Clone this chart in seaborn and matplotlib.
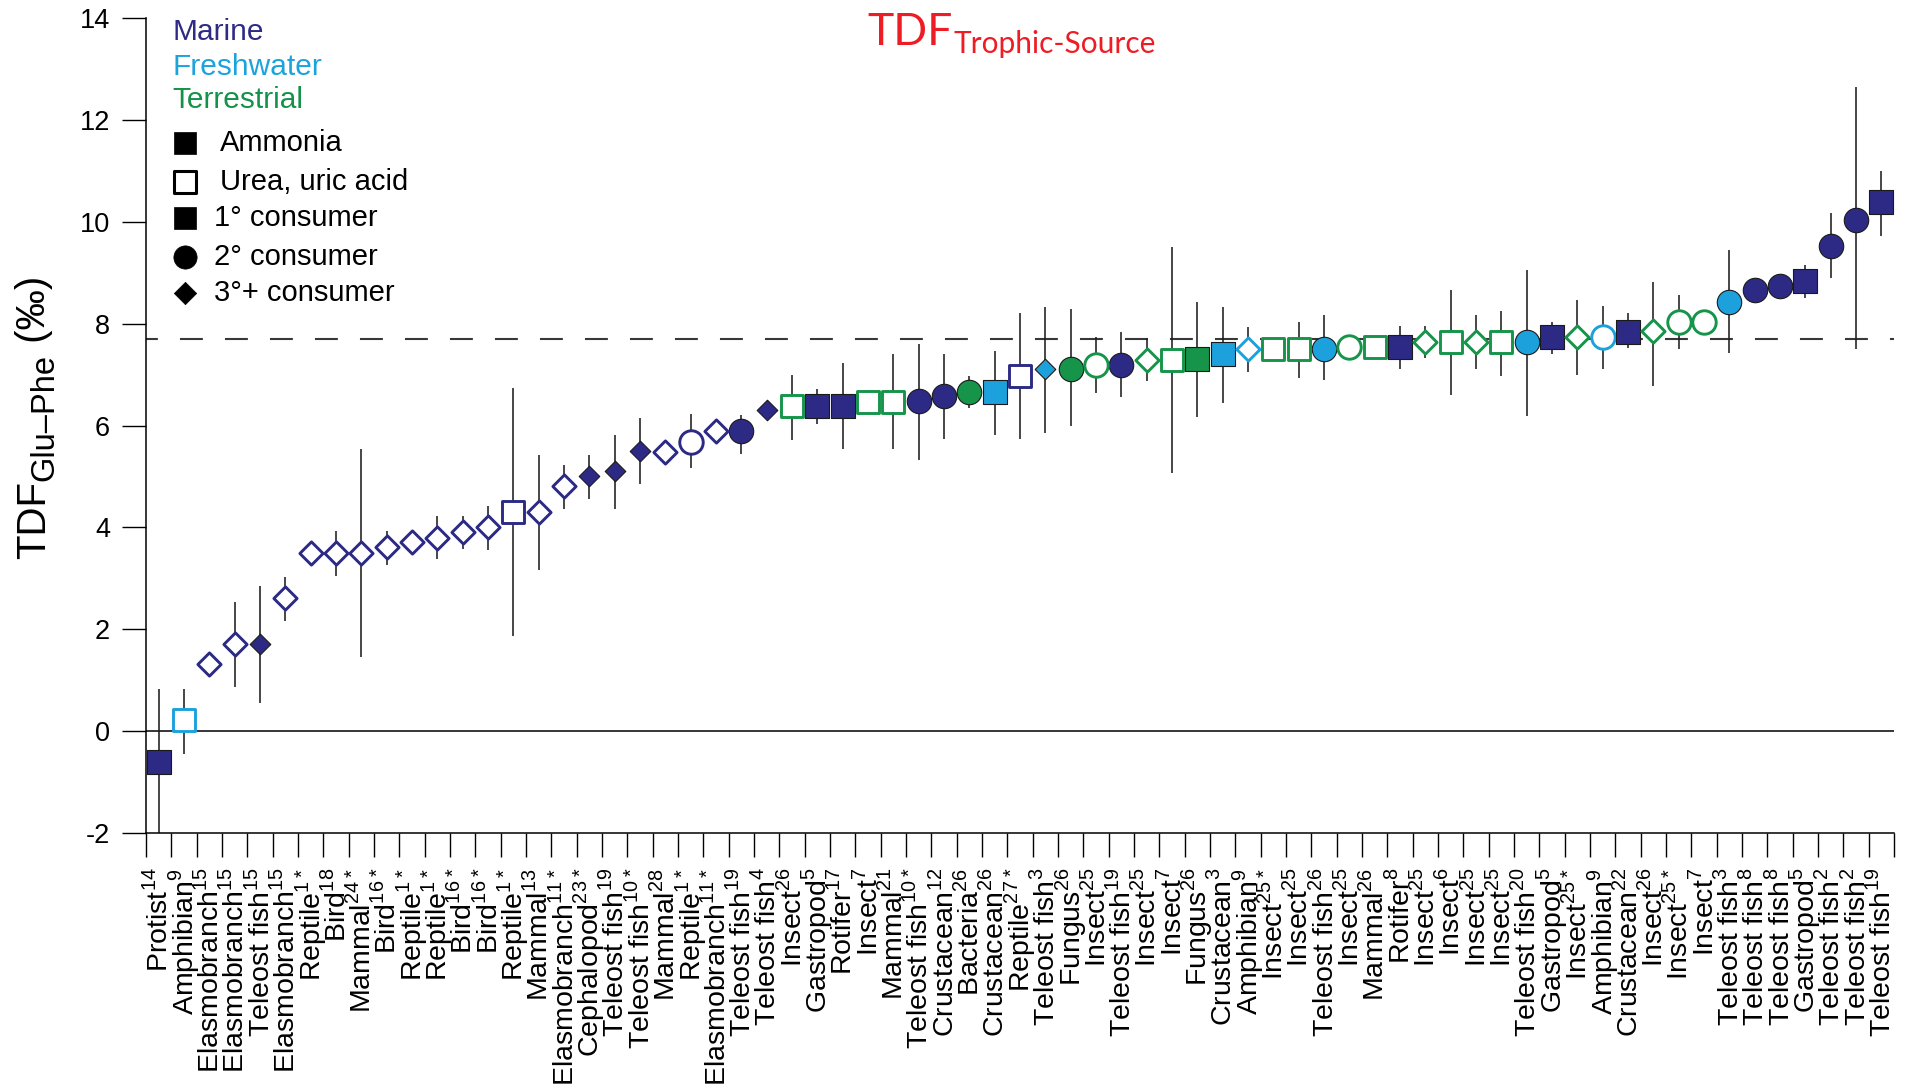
import numpy as np
import pandas as pd
import matplotlib
matplotlib.use("Agg")
import matplotlib.pyplot as plt
import seaborn as sns

# ---------------------------------------------------------------- data
taxa = ["Protist", "Amphibian", "Elasmobranch", "Elasmobranch", "Teleost fish",
        "Elasmobranch", "Reptile", "Bird", "Mammal", "Bird",
        "Reptile", "Reptile", "Bird", "Bird", "Reptile",
        "Mammal", "Elasmobranch", "Cephalopod", "Teleost fish", "Teleost fish",
        "Mammal", "Reptile", "Elasmobranch", "Teleost fish", "Teleost fish",
        "Insect", "Gastropod", "Rotifer", "Insect", "Mammal",
        "Teleost fish", "Crustacean", "Bacteria", "Crustacean", "Reptile",
        "Teleost fish", "Fungus", "Insect", "Teleost fish", "Insect",
        "Insect", "Fungus", "Crustacean", "Amphibian", "Insect",
        "Insect", "Teleost fish", "Insect", "Mammal", "Rotifer",
        "Insect", "Insect", "Insect", "Insect", "Teleost fish",
        "Gastropod", "Insect", "Amphibian", "Crustacean", "Insect",
        "Insect", "Insect", "Teleost fish", "Teleost fish", "Teleost fish",
        "Gastropod", "Teleost fish", "Teleost fish", "Teleost fish"]

refs = ["14", "9", "15", "15", "15",
        "15", "1*", "18", "24*", "16*",
        "1*", "1*", "16*", "16*", "1*",
        "13", "11*", "23*", "19", "10*",
        "28", "1*", "11*", "19", "4",
        "26", "5", "17", "7", "21",
        "10*", "12", "26", "26", "27*",
        "3", "26", "25", "19", "25",
        "7", "26", "3", "9", "25*",
        "25", "26", "25", "26", "8",
        "25", "6", "25", "25", "20",
        "5", "25*", "9", "22", "26",
        "25*", "7", "3", "8", "8",
        "5", "2", "2", "19"]

# M = marine, F = freshwater, T = terrestrial
habitat = ["M", "F", "M", "M", "M",
           "M", "M", "M", "M", "M",
           "M", "M", "M", "M", "M",
           "M", "M", "M", "M", "M",
           "M", "M", "M", "M", "M",
           "T", "M", "M", "T", "T",
           "M", "M", "T", "F", "M",
           "F", "T", "T", "M", "T",
           "T", "T", "F", "F", "T",
           "T", "F", "T", "T", "M",
           "T", "T", "T", "T", "F",
           "M", "T", "F", "M", "T",
           "T", "T", "F", "M", "M",
           "M", "M", "M", "M"]

# A = ammonia (filled), U = urea / uric acid (open)
excretion = ["A", "U", "U", "U", "A",
             "U", "U", "U", "U", "U",
             "U", "U", "U", "U", "U",
             "U", "U", "A", "A", "A",
             "U", "U", "U", "A", "A",
             "U", "A", "A", "U", "U",
             "A", "A", "A", "A", "U",
             "A", "A", "U", "A", "U",
             "U", "A", "A", "U", "U",
             "U", "A", "U", "U", "A",
             "U", "U", "U", "U", "A",
             "A", "U", "U", "A", "U",
             "U", "U", "A", "A", "A",
             "A", "A", "A", "A"]

# consumer level: 1 = primary, 2 = secondary, 3 = tertiary or higher
trophic = [1, 1, 3, 3, 3,
           3, 3, 3, 3, 3,
           3, 3, 3, 3, 1,
           3, 3, 3, 3, 3,
           3, 2, 3, 2, 3,
           1, 1, 1, 1, 1,
           2, 2, 2, 1, 1,
           3, 2, 2, 2, 3,
           1, 1, 1, 3, 1,
           1, 2, 2, 1, 1,
           3, 1, 3, 1, 2,
           1, 3, 2, 1, 3,
           2, 2, 2, 2, 2,
           1, 2, 2, 1]

tdf = [-0.6, 0.21, 1.32, 1.71, 1.71,
       2.61, 3.5, 3.5, 3.5, 3.61,
       3.71, 3.8, 3.9, 4.0, 4.31,
       4.31, 4.82, 5.01, 5.1, 5.5,
       5.48, 5.67, 5.9, 5.9, 6.3,
       6.38, 6.38, 6.38, 6.47, 6.47,
       6.49, 6.58, 6.66, 6.66, 6.98,
       7.11, 7.11, 7.18, 7.18, 7.28,
       7.28, 7.3, 7.4, 7.5, 7.5,
       7.5, 7.5, 7.55, 7.55, 7.55,
       7.64, 7.64, 7.64, 7.64, 7.64,
       7.74, 7.74, 7.74, 7.83, 7.86,
       8.03, 8.03, 8.43, 8.66, 8.73,
       8.84, 9.52, 10.03, 10.38]

nan = np.nan
err_low = [-2.3, -0.44, nan, 0.86, 0.56,
           2.16, nan, 3.05, 1.45, 3.26,
           nan, 3.37, 3.58, 3.56, 1.86,
           3.17, 4.36, 4.56, 4.36, 4.86,
           nan, 5.16, nan, 5.45, nan,
           5.72, 6.03, 5.54, nan, 5.54,
           5.33, 5.74, 6.34, 5.81, 5.74,
           5.86, 5.99, 6.64, 6.55, 6.87,
           5.06, 6.16, 6.45, 7.06, nan,
           6.94, 6.9, nan, nan, 7.1,
           7.33, 6.59, 7.1, 6.98, 6.19,
           7.4, 7.0, 7.1, 7.53, 6.78,
           7.5, nan, 7.42, nan, nan,
           8.5, 8.89, 7.5, 9.73]
err_high = [0.82, 0.82, nan, 2.53, 2.84,
            3.03, nan, 3.93, 5.54, 3.93,
            nan, 4.23, 4.23, 4.42, 6.73,
            5.42, 5.22, 5.42, 5.82, 6.14,
            nan, 6.22, nan, 6.2, nan,
            7.0, 6.72, 7.22, nan, 7.41,
            7.6, 7.41, 6.98, 7.47, 8.2,
            8.33, 8.29, 7.74, 7.83, 7.72,
            9.5, 8.43, 8.33, 7.93, nan,
            8.04, 8.17, nan, nan, 7.95,
            7.95, 8.66, 8.16, 8.25, 9.06,
            8.03, 8.47, 8.34, 8.2, 8.82,
            8.56, nan, 9.45, nan, nan,
            9.15, 10.18, 12.65, 11.0]

mean_tdf = 7.7

df = pd.DataFrame({"taxon": taxa, "ref": refs, "habitat": habitat,
                   "excretion": excretion, "trophic": trophic,
                   "tdf": tdf, "lo": err_low, "hi": err_high})
df["pos"] = np.arange(len(df))

# ---------------------------------------------------------------- style
sns.set_theme(style="ticks")
plt.rcParams["font.family"] = ["Liberation Sans", "DejaVu Sans"]
plt.rcParams["mathtext.fontset"] = "custom"
plt.rcParams["mathtext.rm"] = "Liberation Sans"
plt.rcParams["axes.unicode_minus"] = False

hab_color = {"M": "#2D2A85", "F": "#1DA1DD", "T": "#16944A"}
hab_text = {"M": "#2E2A86", "F": "#1CA3DC", "T": "#15924A"}
marker_of = {1: "s", 2: "o", 3: "D"}
size_filled = {1: 300, 2: 310, 3: 110}
size_open = {1: 265, 2: 285, 3: 140}

W, H = 1909, 1089
fig = plt.figure(figsize=(W / 100, H / 100), dpi=100)
ax = fig.add_axes([146 / W, (H - 833) / H, 1748 / W, 815 / H])

# reference lines
ax.axhline(0, color="black", lw=1.1, zorder=1)
ax.axhline(mean_tdf, color="#383838", lw=1.5, linestyle=(5.3, (11, 10.6)),
           zorder=1)

# error bars
bars = df.dropna(subset=["lo", "hi"])
ax.vlines(bars["pos"], bars["lo"], bars["hi"], color="#1e1e1e", lw=1.15,
          zorder=2)

# markers, one call per symbol/fill/colour group
for (hab, exc, tro), grp in df.groupby(["habitat", "excretion", "trophic"]):
    if exc == "A":
        kw = dict(color=hab_color[hab], edgecolor="#1a1a1a", linewidth=0.8,
                  s=size_filled[tro])
    else:
        kw = dict(color="white", edgecolor=hab_color[hab], linewidth=2.1,
                  s=size_open[tro])
    sns.scatterplot(data=grp, x="pos", y="tdf", marker=marker_of[tro],
                    ax=ax, legend=False, zorder=3, **kw)

# ---------------------------------------------------------------- axes
n = len(df)
ax.set_xlim(-0.5, n - 0.5)
ax.set_ylim(-2, 14)
ax.set_xlabel("")
ax.set_ylabel("")

ax.set_xticks(np.arange(-0.5, n, 1.0))
labels = [f"{t}$^{{\\mathregular{{{r}}}}}$" for t, r in zip(df["taxon"], df["ref"])]
ax.set_xticks(df["pos"], labels=labels, minor=True)
ax.tick_params(axis="x", which="major", length=17.5, width=1.0,
               direction="out", labelbottom=False, color="black")
ax.tick_params(axis="x", which="minor", length=0, pad=25,
               labelsize=20.5, labelrotation=90, labelcolor="black")
for lab in ax.get_xticklabels(minor=True):
    lab.set_verticalalignment("top")
    lab.set_horizontalalignment("center")

ax.set_yticks(np.arange(-2, 15, 2))
ax.tick_params(axis="y", which="major", length=17.5, width=1.0,
               direction="out", pad=8.5, labelsize=19.5, labelcolor="black",
               color="black")

sns.despine(ax=ax)
for side in ("left", "bottom"):
    ax.spines[side].set_color("black")
    ax.spines[side].set_linewidth(1.1)

# ---------------------------------------------------------------- key
tr = ax.transAxes
for y, hab, name in [(0.9828, "M", "Marine"), (0.9399, "F", "Freshwater"),
                     (0.8994, "T", "Terrestrial")]:
    ax.text(0.0149, y, name, transform=tr, color=hab_text[hab],
            fontsize=21.5, va="center", ha="left")

key = [(0.8466, "s", "black", "black", 0.0423, "Ammonia", 270),
       (0.7988, "s", "white", "black", 0.0423, "Urea, uric acid", 235),
       (0.7546, "s", "black", "black", 0.0389, "1\u00b0 consumer", 270),
       (0.7067, "o", "black", "black", 0.0389, "2\u00b0 consumer", 280),
       (0.6626, "D", "black", "black", 0.0389, "3\u00b0+ consumer", 130)]
for y, mk, fc, ec, tx, name, s in key:
    ax.scatter([0.0223], [y], marker=mk, s=s, facecolor=fc, edgecolor=ec,
               linewidth=2.2 if fc == "white" else 0.5,
               transform=tr, clip_on=False, zorder=4)
    ax.text(tx, y, name, transform=tr, fontsize=21, va="center", ha="left",
            color="black")

# ---------------------------------------------------------------- titles
fig.canvas.draw()
renderer = fig.canvas.get_renderer()

# red heading with subscript
t1 = fig.text(867 / W, (H - 45) / H, "TDF", color="#EE1C25", fontsize=32,
              family=["Lato", "DejaVu Sans"], ha="left", va="baseline")
bb = t1.get_window_extent(renderer)
fig.text((bb.x1 + 1) / W, (H - 53) / H, "Trophic-Source", color="#EE1C25",
         fontsize=21.5, family=["Lato", "DejaVu Sans"], ha="left",
         va="baseline")

# rotated y-axis label built from pieces with a lowered subscript
y_px = H - 559
for text, size, xbase in [("TDF", 29, 45), ("Glu\u2013Phe", 23.5, 53),
                          (" (\u2030)", 29, 45)]:
    t = fig.text(xbase / W, y_px / H, text, rotation=90,
                 rotation_mode="anchor", ha="left", va="baseline",
                 fontsize=size, color="black")
    y_px += t.get_window_extent(renderer).height

fig.savefig("out.png", dpi=100)
